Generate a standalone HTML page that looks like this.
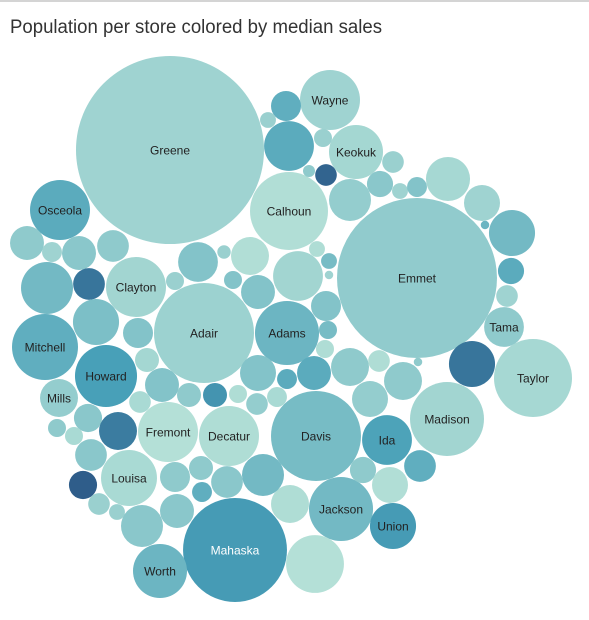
<!DOCTYPE html>
<html><head><meta charset="utf-8">
<style>
html,body{margin:0;padding:0;background:#fff;}
body{width:589px;height:620px;overflow:hidden;position:relative;}
#topline{position:absolute;left:0;top:0;width:589px;height:2px;background:#d4d4d4;}
svg{position:absolute;left:0;top:0;}
</style></head>
<body>
<div id="topline"></div>
<svg id="chart" width="589" height="620">
<text x="10" y="33" font-family="Liberation Sans, sans-serif" font-size="19" fill="#333" textLength="372" lengthAdjust="spacingAndGlyphs">Population per store colored by median sales</text>
<g id="bubbles"></g>
</svg>
<script>
// county names (entries beyond this list are unlabeled bubbles)
const names = ["Greene","Emmet","Mahaska","Davis","Adair","Calhoun","Taylor","Madison","Wayne","Keokuk",
"Osceola","Clayton","Adams","Mitchell","Howard","Fremont","Decatur","Louisa","Jackson","Ida",
"Union","Worth","Tama","Mills"];
// population per store (bubble area)
const population = [982,711,300,225,278,169,169,152,100,81,
100,100,114,121,107,100,100,87,114,69,
59,81,44,40,
32,11,32,28,75,28,9,44,5,40,
9,32,59,25,16,32,36,11,16,16,
9,13,11,22,13,9,9,40,32,9,
40,13,2,40,36,28,19,36,93,40,
49,28,11,16,25,32,28,22,13,7,
49,25,7,69,9,13,4,13,49,19,
7,11,54,36,2,59,19,13,59,7,
7,2,69,25,9];
// median sales (color)
const sales = [25,38,72,50,28,8,18,22,25,20,
62,22,55,60,70,5,10,15,52,68,
72,55,40,35,
40,25,42,40,52,88,30,45,30,8,
45,45,48,45,20,45,45,62,40,75,
10,35,15,42,15,40,15,85,62,10,
40,10,40,40,35,60,40,8,5,10,
52,42,60,40,40,42,42,98,30,30,
42,60,30,62,30,30,40,95,35,42,
25,45,18,25,55,52,62,25,88,10,
50,25,22,45,50];
// packing layout centers — positions from the layout, not data values
const layoutX = [170,417,235,316,204,289,533,447,330,356,
60,136,287,45,106,168,229,129,341,387,
393,160,504,59,
27,52,79,113,47,89,175,198,224,250,
233,258,96,138,147,162,258,287,189,215,
238,257,277,88,140,57,74,118,314,325,
350,379,418,403,370,420,363,390,315,290,
263,227,202,201,175,177,91,83,99,117,
142,286,268,289,323,393,309,326,350,380,
400,417,448,482,485,512,511,507,472,317,
329,329,298,326,328];
const layoutY = [150,278,550,436,333,211,378,419,100,152,
210,287,333,347,376,432,436,478,509,440,
526,571,327,398,
243,252,253,246,288,284,281,262,252,256,
280,292,322,333,360,385,373,379,395,395,
394,404,397,418,402,428,436,431,373,349,
367,361,362,381,399,466,470,485,564,504,
475,482,492,468,477,511,455,485,504,512,
526,106,120,146,138,162,171,175,200,184,
191,187,179,203,225,233,271,296,364,249,
261,275,276,306,330];
</script>
<script>
const N = Math.min(population.length, sales.length, layoutX.length, layoutY.length);
const rScale = v => 3 * Math.sqrt(v);
const stops = [[0,[185,227,216]],[40,[143,202,204]],[70,[72,160,184]],[100,[45,88,135]]];
function colorScale(v){
  for(let i=0;i<stops.length-1;i++){
    const a=stops[i],b=stops[i+1];
    if(v<=b[0]){const t=(v-a[0])/(b[0]-a[0]);
      return 'rgb('+a[1].map((c,k)=>Math.round(c+(b[1][k]-c)*t)).join(',')+')';}
  }
  return 'rgb('+stops[stops.length-1][1].join(',')+')';
}
const g = document.getElementById('bubbles');
const NS = 'http://www.w3.org/2000/svg';
for(let i=0;i<N;i++){
  const nm = names[i] || '';
  const c = document.createElementNS(NS,'circle');
  c.setAttribute('cx', layoutX[i]);
  c.setAttribute('cy', layoutY[i]);
  c.setAttribute('r', rScale(population[i]));
  c.setAttribute('fill', colorScale(sales[i]));
  
  
  g.appendChild(c);
}
for(let i=0;i<N;i++){
  const nm = names[i] || '';
  if(!nm) continue;
  const t = document.createElementNS(NS,'text');
  t.setAttribute('x', layoutX[i]);
  t.setAttribute('y', layoutY[i] + 4.5);
  t.setAttribute('text-anchor','middle');
  t.setAttribute('font-family','Liberation Sans, sans-serif');
  t.setAttribute('font-size','12');
  t.setAttribute('fill', sales[i] >= 72 && population[i] > 200 ? '#ffffff' : '#222222');
  t.textContent = nm;
  
  
  g.appendChild(t);
}
</script>
</body></html>
